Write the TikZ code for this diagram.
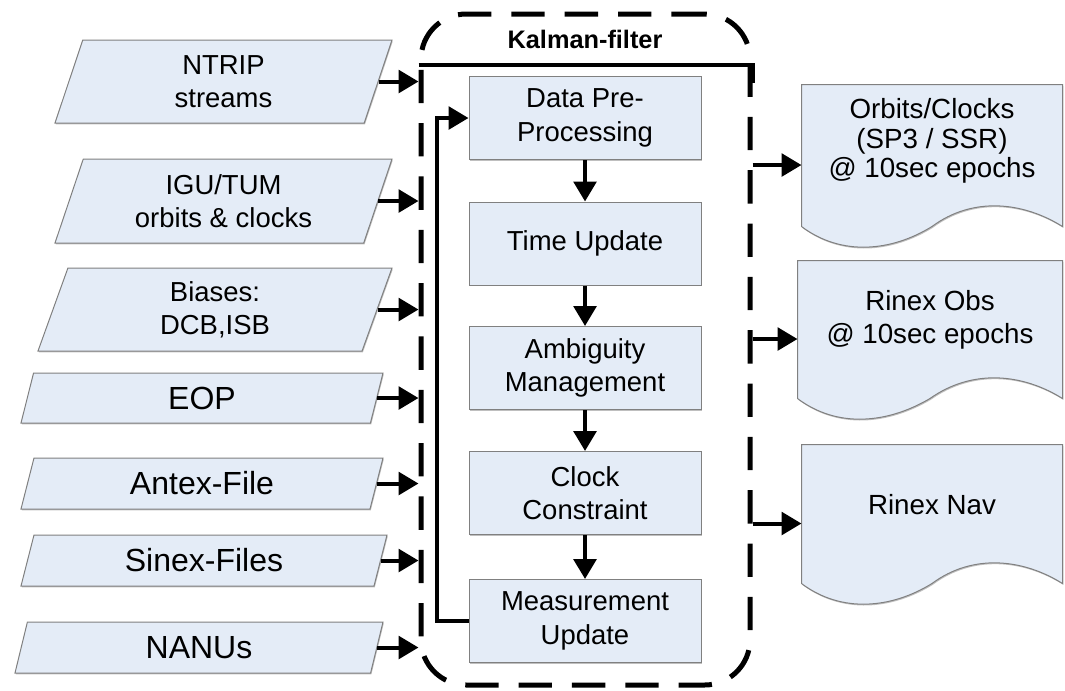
\documentclass[tikz,border=0pt]{standalone}
\usepackage{fontspec}
\setmainfont{Liberation Sans}
\usetikzlibrary{arrows.meta,shapes.geometric,calc,shadows}

\definecolor{boxfill}{RGB}{228,236,247}
\definecolor{boxline}{RGB}{128,128,128}

\tikzset{every picture/.style={line width=0.75pt}}
\tikzset{
  boxshadow/.style={drop shadow={shadow xshift=0.6pt,shadow yshift=-1pt,opacity=0.5}},
  inbox/.style={trapezium,trapezium left angle=63,trapezium right angle=117,trapezium stretches body,
    draw=boxline,fill=boxfill,boxshadow,inner sep=0.75pt,align=center,font=\fontsize{20.6}{25}\selectfont},
  bigfont/.style={font=\fontsize{24}{28}\selectfont},
  procbox/.style={rectangle,draw=boxline,fill=boxfill,boxshadow,minimum width=174pt,minimum height=62.25pt,
    inner sep=0.75pt,align=center,font=\fontsize{20.6}{25}\selectfont},
  docbox/.style={rectangle,inner sep=0pt},
  doctext/.style={inner sep=0.75pt,align=center,font=\fontsize{20.8}{25}\selectfont},
  flow/.style={line width=3pt,-{Triangle[length=15pt,width=17pt]}},
  kfbox/.style={draw,line width=3.75pt,dash pattern=on 25pt off 15pt,rounded corners=34pt,inner sep=0pt},
}

% document shape with a wavy bottom, drawn round an empty node
\newcommand{\docshape}[1]{%
  \filldraw [draw=boxline,fill=boxfill,boxshadow] (#1.north west) -- (#1.north east) -- ($(#1.south east)+(0,-19)$)
    .. controls ($(#1.south east)+(-40,-44)$) and ($(#1.south east)+(-90,-49)$) .. ($(#1.south)+(0,-19)$)
    .. controls ($(#1.south west)+(90,6)$) and ($(#1.south west)+(40,11)$) .. ($(#1.south west)+(0,-19)$) -- cycle ;}

\begin{document}
\begin{tikzpicture}[x=0.75pt,y=0.75pt,yscale=-1,xscale=1]
	\useasboundingbox (0,0) rectangle (1065,690);

	%Shape: Rounded Rect (Kalman-filter)
	\draw (585.5,349.5) node [kfbox,minimum width=246.75pt,minimum height=503.25pt] (kf) {};
	% Text Node
	\draw (585,39) node [inner sep=0.75pt,font=\bfseries\fontsize{19}{22}\selectfont] (kftitle) {Kalman-filter};

	%Shape: Parallelogram (inputs)
	\draw (223.5,81.5) node [inbox,minimum width=252.75pt,minimum height=62.25pt] (ntrip) {NTRIP\\streams};
	\draw (223.5,201) node [inbox,minimum width=252.75pt,minimum height=63pt] (igu) {IGU/TUM\\orbits \& clocks};
	\draw (215,309.5) node [inbox,minimum width=265.5pt,minimum height=62.25pt] (bias) {Biases:\\DCB,ISB};
	\draw (202,398) node [inbox,bigfont,minimum width=271.5pt,minimum height=37.5pt] (eop) {EOP};
	\draw (202,483.5) node [inbox,bigfont,minimum width=271.5pt,minimum height=38.25pt] (antex) {Antex-File};
	\draw (204,560.5) node [inbox,bigfont,minimum width=274.5pt,minimum height=38.25pt] (sinex) {Sinex-Files};
	\draw (199,647.5) node [inbox,bigfont,minimum width=276pt,minimum height=38.25pt] (nanu) {NANUs};

	%Shape: Rectangle (filter steps)
	\draw (585,118) node [procbox] (dpp) {Data Pre-\\Processing};
	\draw (585,243.5) node [procbox] (tupd) {Time Update};
	\draw (585,368) node [procbox] (amb) {Ambiguity\\Management};
	\draw (585,493) node [procbox] (clk) {Clock\\Constraint};
	\draw (585,621) node [procbox] (mupd) {Measurement\\Update};

	%Shape: Document (outputs)
	\draw (932,165) node [docbox,minimum width=195pt,minimum height=120pt] (orb) {};
	\draw (930,339) node [docbox,minimum width=198pt,minimum height=117pt] (obs) {};
	\draw (932,523.5) node [docbox,minimum width=195pt,minimum height=117.75pt] (nav) {};
	\docshape{orb}
	\docshape{obs}
	\docshape{nav}
	% Text Node
	\draw ($(orb)+(0,-24)$) node [doctext,font=\fontsize{20.8}{22}\selectfont] (orbtxt) {Orbits/Clocks\\(SP3 / SSR)\\@ 10sec epochs};
	% Text Node
	\draw ($(obs)+(0,-19)$) node [doctext] (obstxt) {Rinex Obs\\@ 10sec epochs};
	% Text Node
	\draw ($(nav)+(0,-19)$) node [doctext] (navtxt) {Rinex Nav};

	%Straight Lines (inputs into the filter)
	\draw [flow] (ntrip.east) -- (ntrip.east -| kf.west);
	\draw [flow] (igu.east) -- (igu.east -| kf.west);
	\draw [flow] (bias.east) -- (bias.east -| kf.west);
	\draw [flow] (eop.east) -- (eop.east -| kf.west);
	\draw [flow] (antex.east) -- (antex.east -| kf.west);
	\draw [flow] (sinex.east) -- (sinex.east -| kf.west);
	\draw [flow] (nanu.east) -- (nanu.east -| kf.west);
	%Straight Lines (top bus)
	\draw [line width=3pt] ($(kf.north west)+(0,53)$) -| ($(kf.north east)+(0,71)$);

	%Straight Lines (filter steps)
	\draw [flow] (dpp) -- (tupd);
	\draw [flow] (tupd) -- (amb);
	\draw [flow] (amb) -- (clk);
	\draw [flow] (clk) -- (mupd);
	%Straight Lines (feedback)
	\draw [flow] (mupd.west) -- ++(-32,0) |- (dpp.west);

	%Straight Lines (outputs)
	\draw [flow] (kf.east |- orb.west) -- (orb.west);
	\draw [flow] (kf.east |- obs.west) -- (obs.west);
	\draw [flow] (kf.east |- nav.west) -- (nav.west);
\end{tikzpicture}
\end{document}
